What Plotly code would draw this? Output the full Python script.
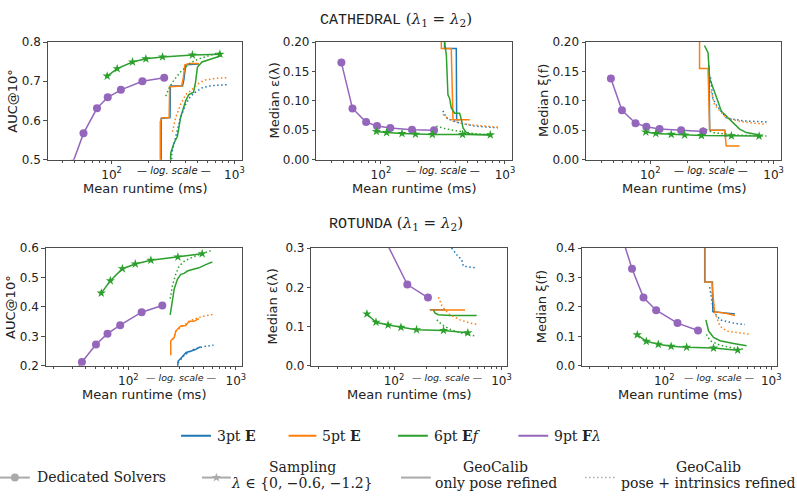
import plotly.graph_objects as go

W, H = 797, 504
BLUE, ORANGE, GREEN, PURPLE = "#1f77b4", "#ff7f0e", "#2ca02c", "#9467bd"
GRAY = "#aaaaaa"
FRAME = "#4d4d4d"
TXT = "#222222"
DOT = "1.5px,2.5px"

# ---------------- CATHEDRAL data (runtime ms, metric) ----------------
cat_9pt_time = [48, 59, 76, 93, 119, 178, 268]
cat_9pt_auc = [0.49, 0.567, 0.631, 0.659, 0.678, 0.700, 0.709]
cat_9pt_eps = [0.165, 0.087, 0.064, 0.057, 0.054, 0.051, 0.050]
cat_9pt_xi = [0.138, 0.084, 0.062, 0.056, 0.052, 0.050, 0.048]

cat_samp_time = [92, 111, 148, 190, 260, 455, 762]
cat_samp_auc = [0.713, 0.732, 0.749, 0.757, 0.762, 0.767, 0.769]
cat_samp_eps = [0.048, 0.046, 0.0445, 0.0433, 0.0428, 0.0428, 0.0422]
cat_samp_xi = [0.047, 0.0445, 0.043, 0.042, 0.041, 0.0405, 0.040]

# GeoCalib curves: only pose refined (solid) / pose + intrinsics refined (dotted)
cat_auc_3pt_t = [253, 253, 299, 301, 378, 388, 402, 513]
cat_auc_3pt_v = [0.30, 0.605, 0.607, 0.688, 0.688, 0.705, 0.742, 0.744]
cat_auc_5pt_t = [249, 249, 256, 294, 297, 372, 383, 395, 430, 513]
cat_auc_5pt_v = [0.30, 0.597, 0.607, 0.607, 0.686, 0.688, 0.707, 0.742, 0.745, 0.745]
cat_auc_6pt_t = [300, 303, 322, 343, 365, 401, 425, 465, 482, 500, 545, 617, 698, 780]
cat_auc_6pt_v = [0.45, 0.517, 0.542, 0.559, 0.608, 0.650, 0.666, 0.672, 0.697, 0.736, 0.749, 0.755, 0.759, 0.765]
cat_auc_3pt_int_t = [305, 309, 333, 365, 401, 440, 482, 545, 656, 867]
cat_auc_3pt_int_v = [0.45, 0.517, 0.559, 0.608, 0.641, 0.662, 0.672, 0.683, 0.689, 0.691]
cat_auc_5pt_int_t = [313, 333, 365, 401, 453, 513, 580, 698, 867]
cat_auc_5pt_int_v = [0.571, 0.608, 0.641, 0.666, 0.679, 0.695, 0.703, 0.707, 0.709]
cat_auc_6pt_int_t = [276, 294, 322, 365, 401, 453, 513, 617, 767]
cat_auc_6pt_int_v = [0.662, 0.683, 0.703, 0.724, 0.736, 0.749, 0.757, 0.765, 0.774]

cat_eps_3pt_t = [326, 326, 405, 408, 430]
cat_eps_3pt_v = [0.30, 0.189, 0.189, 0.068, 0.068]
cat_eps_5pt_t = [307, 307, 369, 381, 520]
cat_eps_5pt_v = [0.30, 0.189, 0.189, 0.068, 0.068]
cat_eps_6pt_t = [318, 326, 337, 347, 358, 369, 393, 431, 445, 459, 488, 535, 776]
cat_eps_6pt_v = [0.25, 0.20, 0.177, 0.110, 0.104, 0.088, 0.079, 0.079, 0.068, 0.054, 0.046, 0.043, 0.042]
cat_eps_3pt_int_t = [316, 337, 418, 570, 879]
cat_eps_3pt_int_v = [0.083, 0.071, 0.063, 0.057, 0.054]
cat_eps_5pt_int_t = [316, 369, 488, 879]
cat_eps_5pt_int_v = [0.077, 0.066, 0.060, 0.055]
cat_eps_6pt_int_t = [279, 326, 405, 488, 570, 776]
cat_eps_6pt_int_v = [0.057, 0.053, 0.049, 0.046, 0.044, 0.042]

cat_xi_3pt_t = [298, 300, 303, 401, 405, 420]
cat_xi_3pt_v = [0.16, 0.155, 0.05, 0.05, 0.04, 0.04]
cat_xi_5pt_t = [251, 251, 294, 303, 401, 413, 530]
cat_xi_5pt_v = [0.30, 0.155, 0.155, 0.05, 0.05, 0.023, 0.023]
cat_xi_6pt_t = [275, 294, 303, 322, 332, 354, 377, 413, 469, 530, 601, 771]
cat_xi_6pt_v = [0.194, 0.182, 0.138, 0.124, 0.116, 0.099, 0.082, 0.074, 0.063, 0.052, 0.046, 0.042]
cat_xi_3pt_int_t = [308, 322, 343, 413, 560, 875]
cat_xi_3pt_int_v = [0.14, 0.104, 0.093, 0.071, 0.066, 0.064]
cat_xi_5pt_int_t = [312, 332, 413, 560, 875]
cat_xi_5pt_int_v = [0.116, 0.093, 0.071, 0.064, 0.060]
cat_xi_6pt_int_t = [265, 322, 469, 875]
cat_xi_6pt_int_v = [0.054, 0.046, 0.042, 0.040]

# ---------------- ROTUNDA data ----------------
rot_9pt_time = [28, 37, 50, 64, 84, 133, 207]
rot_9pt_auc = [0.15, 0.213, 0.272, 0.309, 0.338, 0.382, 0.405]
rot_9pt_eps = [0.75, 0.55, 0.45, 0.38, 0.317, 0.207, 0.174]
rot_9pt_xi = [0.70, 0.48, 0.33, 0.232, 0.189, 0.145, 0.120]

rot_samp_time = [56, 68, 88, 116, 162, 289, 486]
rot_samp_auc = [0.447, 0.489, 0.530, 0.546, 0.559, 0.570, 0.581]
rot_samp_eps = [0.132, 0.111, 0.104, 0.098, 0.092, 0.090, 0.084]
rot_samp_xi = [0.105, 0.083, 0.073, 0.066, 0.063, 0.060, 0.053]

rot_auc_3pt_t = [285, 290, 320, 345, 385, 420, 470]
rot_auc_3pt_v = [0.18, 0.215, 0.232, 0.245, 0.250, 0.255, 0.265]
rot_auc_5pt_t = [248, 248, 267, 276, 307, 342, 367, 408, 454]
rot_auc_5pt_v = [0.236, 0.285, 0.296, 0.318, 0.335, 0.337, 0.351, 0.351, 0.360]
rot_auc_6pt_t = [245, 257, 267, 286, 307, 330, 354, 394, 454, 524, 604]
rot_auc_6pt_v = [0.373, 0.428, 0.461, 0.494, 0.511, 0.514, 0.522, 0.527, 0.533, 0.544, 0.553]
rot_auc_3pt_int_t = [290, 330, 400, 500, 620]
rot_auc_3pt_int_v = [0.21, 0.235, 0.255, 0.265, 0.270]
rot_auc_5pt_int_t = [260, 280, 342, 394, 487, 625]
rot_auc_5pt_int_v = [0.29, 0.32, 0.342, 0.356, 0.368, 0.375]
rot_auc_6pt_int_t = [245, 257, 276, 296, 330, 394, 487, 604]
rot_auc_6pt_int_v = [0.428, 0.472, 0.511, 0.538, 0.555, 0.569, 0.582, 0.593]

rot_eps_3pt_t = [215, 300]
rot_eps_3pt_v = [0.143, 0.143]
rot_eps_5pt_t = [217, 457]
rot_eps_5pt_v = [0.142, 0.142]
rot_eps_6pt_t = [233, 241, 259, 332, 587]
rot_eps_6pt_v = [0.142, 0.134, 0.130, 0.128, 0.128]
rot_eps_3pt_int_t = [330, 344, 383, 427, 442, 566]
rot_eps_3pt_int_v = [0.32, 0.30, 0.283, 0.27, 0.254, 0.25]
rot_eps_5pt_int_t = [259, 278, 298, 332, 411, 509, 608]
rot_eps_5pt_int_v = [0.175, 0.154, 0.142, 0.130, 0.117, 0.109, 0.105]
rot_eps_6pt_int_t = [250, 278, 332, 411, 566]
rot_eps_6pt_int_v = [0.117, 0.105, 0.093, 0.084, 0.076]

rot_xi_3pt_t = [239, 239, 282, 285, 458]
rot_xi_3pt_v = [0.50, 0.285, 0.285, 0.184, 0.176]
rot_xi_5pt_t = [241, 241, 279, 295, 384, 458]
rot_xi_5pt_v = [0.50, 0.285, 0.285, 0.184, 0.178, 0.171]
rot_xi_6pt_t = [245, 260, 289, 333, 444, 589]
rot_xi_6pt_v = [0.156, 0.118, 0.096, 0.085, 0.076, 0.068]
rot_xi_3pt_int_t = [266, 289, 333, 444, 568]
rot_xi_3pt_int_v = [0.267, 0.184, 0.156, 0.145, 0.140]
rot_xi_5pt_int_t = [279, 299, 333, 384, 631]
rot_xi_5pt_int_v = [0.25, 0.178, 0.134, 0.118, 0.107]
rot_xi_6pt_int_t = [248, 269, 333, 444, 560]
rot_xi_6pt_int_v = [0.107, 0.085, 0.070, 0.060, 0.056]

# ---------------- axes / labels ----------------
y_titles = ["AUC@10°", "Median ε(λ)", "Median ξ(f)"]
top_yticks = [[0.5, 0.6, 0.7, 0.8], [0.0, 0.05, 0.10, 0.15, 0.20], [0.0, 0.05, 0.10, 0.15, 0.20]]
top_yranges = [[0.5, 0.8], [0.0, 0.2], [0.0, 0.2]]
top_yfmt = [".1f", ".2f", ".2f"]
bot_yticks = [[0.2, 0.3, 0.4, 0.5, 0.6], [0.0, 0.1, 0.2, 0.3], [0.0, 0.1, 0.2, 0.3, 0.4]]
bot_yranges = [[0.2, 0.6], [0.0, 0.3], [0.0, 0.4]]
bot_yfmt = [".1f", ".1f", ".1f"]
x_tickvals = [100, 1000]
x_ticktext = ["10<sup>2</sup>", "10<sup>3</sup>"]
x_minor = [20, 30, 40, 50, 60, 70, 80, 90, 200, 300, 400, 500, 600, 700, 800, 900]

fig = go.Figure()


def ax_names(i):
    return ("x" if i == 1 else f"x{i}"), ("y" if i == 1 else f"y{i}")


def line(i, t, v, color, dash="solid"):
    xa, ya = ax_names(i)
    fig.add_trace(go.Scatter(x=t, y=v, xaxis=xa, yaxis=ya, mode="lines",
                             line=dict(color=color, width=1.5, dash=dash),
                             showlegend=False, hoverinfo="skip"))


def mline(i, t, v, color, symbol, size):
    xa, ya = ax_names(i)
    fig.add_trace(go.Scatter(x=t, y=v, xaxis=xa, yaxis=ya, mode="lines+markers",
                             line=dict(color=color, width=1.5),
                             marker=dict(color=color, symbol=symbol, size=size, line=dict(width=0)),
                             cliponaxis=True, showlegend=False, hoverinfo="skip"))


# panel index: 1..3 top (cathedral), 4..6 bottom (rotunda)
panels = {
    1: dict(nine=(cat_9pt_time, cat_9pt_auc), samp=(cat_samp_time, cat_samp_auc),
            geo=[(cat_auc_3pt_t, cat_auc_3pt_v, BLUE, "solid"), (cat_auc_5pt_t, cat_auc_5pt_v, ORANGE, "solid"),
                 (cat_auc_6pt_t, cat_auc_6pt_v, GREEN, "solid"), (cat_auc_3pt_int_t, cat_auc_3pt_int_v, BLUE, DOT),
                 (cat_auc_5pt_int_t, cat_auc_5pt_int_v, ORANGE, DOT), (cat_auc_6pt_int_t, cat_auc_6pt_int_v, GREEN, DOT)]),
    2: dict(nine=(cat_9pt_time, cat_9pt_eps), samp=(cat_samp_time, cat_samp_eps),
            geo=[(cat_eps_3pt_t, cat_eps_3pt_v, BLUE, "solid"), (cat_eps_5pt_t, cat_eps_5pt_v, ORANGE, "solid"),
                 (cat_eps_6pt_t, cat_eps_6pt_v, GREEN, "solid"), (cat_eps_3pt_int_t, cat_eps_3pt_int_v, BLUE, DOT),
                 (cat_eps_5pt_int_t, cat_eps_5pt_int_v, ORANGE, DOT), (cat_eps_6pt_int_t, cat_eps_6pt_int_v, GREEN, DOT)]),
    3: dict(nine=(cat_9pt_time, cat_9pt_xi), samp=(cat_samp_time, cat_samp_xi),
            geo=[(cat_xi_3pt_t, cat_xi_3pt_v, BLUE, "solid"), (cat_xi_5pt_t, cat_xi_5pt_v, ORANGE, "solid"),
                 (cat_xi_6pt_t, cat_xi_6pt_v, GREEN, "solid"), (cat_xi_3pt_int_t, cat_xi_3pt_int_v, BLUE, DOT),
                 (cat_xi_5pt_int_t, cat_xi_5pt_int_v, ORANGE, DOT), (cat_xi_6pt_int_t, cat_xi_6pt_int_v, GREEN, DOT)]),
    4: dict(nine=(rot_9pt_time, rot_9pt_auc), samp=(rot_samp_time, rot_samp_auc),
            geo=[(rot_auc_3pt_t, rot_auc_3pt_v, BLUE, "solid"), (rot_auc_5pt_t, rot_auc_5pt_v, ORANGE, "solid"),
                 (rot_auc_6pt_t, rot_auc_6pt_v, GREEN, "solid"), (rot_auc_3pt_int_t, rot_auc_3pt_int_v, BLUE, DOT),
                 (rot_auc_5pt_int_t, rot_auc_5pt_int_v, ORANGE, DOT), (rot_auc_6pt_int_t, rot_auc_6pt_int_v, GREEN, DOT)]),
    5: dict(nine=(rot_9pt_time, rot_9pt_eps), samp=(rot_samp_time, rot_samp_eps),
            geo=[(rot_eps_3pt_t, rot_eps_3pt_v, BLUE, "solid"), (rot_eps_5pt_t, rot_eps_5pt_v, ORANGE, "solid"),
                 (rot_eps_6pt_t, rot_eps_6pt_v, GREEN, "solid"), (rot_eps_3pt_int_t, rot_eps_3pt_int_v, BLUE, DOT),
                 (rot_eps_5pt_int_t, rot_eps_5pt_int_v, ORANGE, DOT), (rot_eps_6pt_int_t, rot_eps_6pt_int_v, GREEN, DOT)]),
    6: dict(nine=(rot_9pt_time, rot_9pt_xi), samp=(rot_samp_time, rot_samp_xi),
            geo=[(rot_xi_3pt_t, rot_xi_3pt_v, BLUE, "solid"), (rot_xi_5pt_t, rot_xi_5pt_v, ORANGE, "solid"),
                 (rot_xi_6pt_t, rot_xi_6pt_v, GREEN, "solid"), (rot_xi_3pt_int_t, rot_xi_3pt_int_v, BLUE, DOT),
                 (rot_xi_5pt_int_t, rot_xi_5pt_int_v, ORANGE, DOT), (rot_xi_6pt_int_t, rot_xi_6pt_int_v, GREEN, DOT)]),
}

for i, p in panels.items():
    for t, v, c, d in p["geo"]:
        line(i, t, v, c, d)
    mline(i, p["nine"][0], p["nine"][1], PURPLE, "circle", 8)
    mline(i, p["samp"][0], p["samp"][1], GREEN, "star", 7)

# ---------------- layout ----------------
def fx(px):
    return px / W


def fy(py):
    return 1 - py / H


top_dom_x = [(48, 243), (318, 515), (589, 785)]
bot_dom_x = [(46, 243), (313, 510), (585, 781)]
top_dom_y = (36, 157)
bot_dom_y = (248, 369)
top_xrange = [1.48, 3.06]
bot_xrange = [1.232, 3.055]

tickfont = dict(family="DejaVu Sans", size=12, color=TXT)
layout = dict(width=W, height=H, margin=dict(l=0, r=0, t=0, b=0),
              paper_bgcolor="white", plot_bgcolor="rgba(0,0,0,0)", showlegend=False)

for k in range(6):
    i = k + 1
    top = k < 3
    j = k % 3
    dx = top_dom_x[j] if top else bot_dom_x[j]
    dy = top_dom_y if top else bot_dom_y
    xn = "xaxis" if i == 1 else f"xaxis{i}"
    yn = "yaxis" if i == 1 else f"yaxis{i}"
    xa, ya = ax_names(i)
    layout[xn] = dict(domain=[fx(dx[0]), fx(dx[1])], anchor=ya, type="log",
                      range=top_xrange if top else bot_xrange,
                      showline=True, mirror=True, linecolor=FRAME, linewidth=1,
                      ticks="outside", ticklen=3.5, tickcolor=FRAME, tickwidth=1,
                      tickmode="array", tickvals=x_tickvals, ticktext=x_ticktext,
                      tickfont=tickfont, showgrid=False, zeroline=False,
                      minor=dict(tickmode="array", tickvals=x_minor, ticks="outside",
                                 ticklen=2, tickcolor=FRAME, tickwidth=0.8, showgrid=False))
    layout[yn] = dict(domain=[fy(dy[1]), fy(dy[0])], anchor=xa,
                      range=top_yranges[j] if top else bot_yranges[j],
                      showline=True, mirror=True, linecolor=FRAME, linewidth=1,
                      ticks="outside", ticklen=3.5, tickcolor=FRAME, tickwidth=1,
                      tickmode="array", tickvals=top_yticks[j] if top else bot_yticks[j],
                      tickformat=top_yfmt[j] if top else bot_yfmt[j],
                      tickfont=tickfont, showgrid=False, zeroline=False)

# overlay axis for legend handles (pixel coordinates)
layout["xaxis7"] = dict(domain=[0, 1], anchor="y7", range=[0, W], visible=False, fixedrange=True)
layout["yaxis7"] = dict(domain=[0, 1], anchor="x7", range=[H, 0], visible=False, fixedrange=True)

fig.update_layout(**layout)

ann = []


def text(px, py, s, size=13, family="DejaVu Sans", xanchor="center", angle=0, color=TXT):
    ann.append(dict(x=fx(px), y=fy(py), xref="paper", yref="paper", text=s, showarrow=False,
                    xanchor=xanchor, yanchor="middle", textangle=angle,
                    font=dict(family=family, size=size, color=color)))


# titles
text(398, 13, "<span style='font-family:Liberation Mono'>CATHEDRAL</span> (<i>λ</i><sub>1</sub> = <i>λ</i><sub>2</sub>)",
     size=15, family="DejaVu Serif")
text(398, 223, "<span style='font-family:Liberation Mono'>ROTUNDA</span> (<i>λ</i><sub>1</sub> = <i>λ</i><sub>2</sub>)",
     size=15, family="DejaVu Serif")

# x titles and log-scale notes
for j in range(3):
    cx = sum(top_dom_x[j]) / 2
    text(cx, 187, "Mean runtime (ms)", size=13)
    cxb = sum(bot_dom_x[j]) / 2
    text(cxb, 399, "Mean runtime (ms)", size=13)
text(175, 168, "<i>— log. scale —</i>", size=10)
text(445, 168, "<i>— log. scale —</i>", size=10)
text(715, 168, "<i>— log. scale —</i>", size=10)
text(182, 381, "<i>— log. scale —</i>", size=9.5)
text(450, 381, "<i>— log. scale —</i>", size=9.5)
text(723, 381, "<i>— log. scale —</i>", size=9.5)

# y titles
for j, xx in enumerate([13, 276, 547]):
    text(xx, (top_dom_y[0] + top_dom_y[1]) / 2, y_titles[j], size=13, angle=-90)
for j, xx in enumerate([11, 274, 545]):
    text(xx, (bot_dom_y[0] + bot_dom_y[1]) / 2, y_titles[j], size=13, angle=-90)

# legend row 1
LEGF = "DejaVu Serif"
leg1 = [(182, 212, BLUE, "3pt <b>E</b>"), (290, 318, ORANGE, "5pt <b>E</b>"),
        (400, 430, GREEN, "6pt <b>E</b><i>f</i>"), (521, 551, PURPLE, "9pt <b>F</b><i>λ</i>")]
for x0, x1, c, s in leg1:
    fig.add_trace(go.Scatter(x=[x0, x1], y=[441, 441], xaxis="x7", yaxis="y7", mode="lines",
                             line=dict(color=c, width=2), showlegend=False, hoverinfo="skip"))
    text(x1 + 4, 441, s, size=14, family=LEGF, xanchor="left")

# legend row 2
fig.add_trace(go.Scatter(x=[0, 30], y=[484, 484], xaxis="x7", yaxis="y7", mode="lines",
                         line=dict(color=GRAY, width=2), showlegend=False, hoverinfo="skip"))
fig.add_trace(go.Scatter(x=[15], y=[484], xaxis="x7", yaxis="y7", mode="markers",
                         marker=dict(color=GRAY, symbol="circle", size=8), showlegend=False, hoverinfo="skip"))
text(35, 483, "Dedicated Solvers", size=14, family=LEGF, xanchor="left")

fig.add_trace(go.Scatter(x=[203, 232], y=[484, 484], xaxis="x7", yaxis="y7", mode="lines",
                         line=dict(color=GRAY, width=2), showlegend=False, hoverinfo="skip"))
fig.add_trace(go.Scatter(x=[217.5], y=[484], xaxis="x7", yaxis="y7", mode="markers",
                         marker=dict(color=GRAY, symbol="star", size=7), showlegend=False, hoverinfo="skip"))
text(304, 473, "Sampling", size=14, family=LEGF)
text(304, 490, "<i>λ</i> ∈ {0, −0.6, −1.2}", size=14, family=LEGF)

fig.add_trace(go.Scatter(x=[403, 433], y=[484, 484], xaxis="x7", yaxis="y7", mode="lines",
                         line=dict(color=GRAY, width=2), showlegend=False, hoverinfo="skip"))
text(498, 473, "GeoCalib", size=14, family=LEGF)
text(498, 490, "only pose refined", size=14, family=LEGF)

fig.add_trace(go.Scatter(x=[588, 618], y=[484, 484], xaxis="x7", yaxis="y7", mode="lines",
                         line=dict(color=GRAY, width=1.5, dash=DOT), showlegend=False, hoverinfo="skip"))
text(712, 473, "GeoCalib", size=14, family=LEGF)
text(712, 490, "pose + intrinsics refined", size=14, family=LEGF)

fig.update_layout(annotations=ann)
fig.write_html("out.html")
